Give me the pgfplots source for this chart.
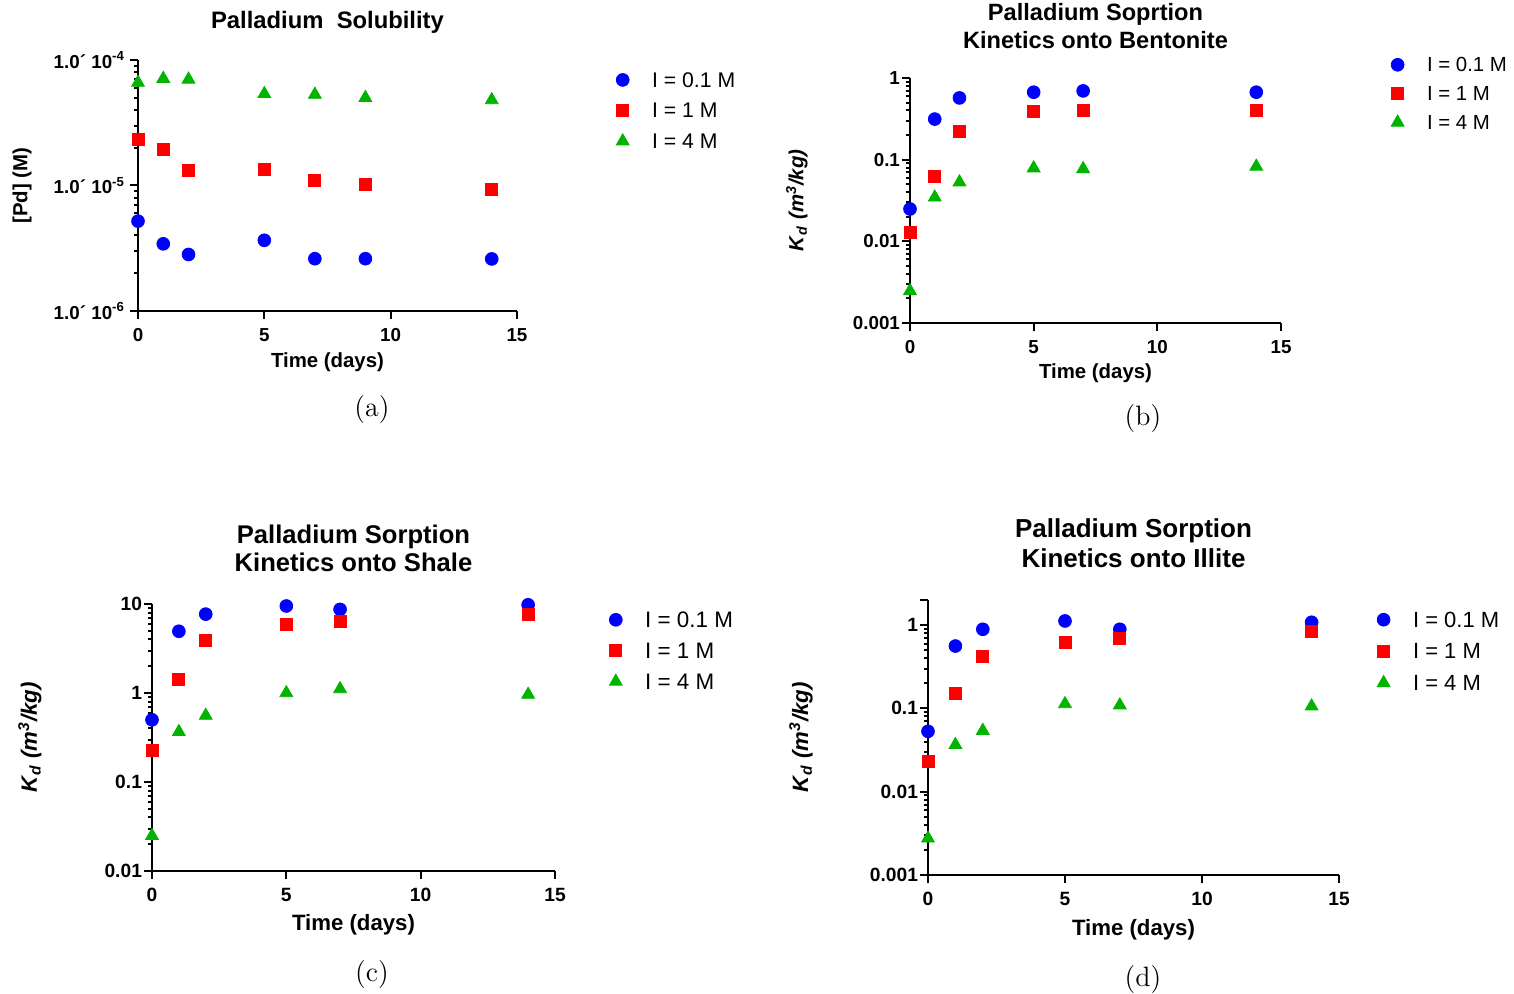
\documentclass[border=0pt]{standalone}
\usepackage{fontspec}
\usepackage{pgfplots}
\pgfplotsset{compat=1.18}
\newfontfamily\arial{Liberation Sans}
\definecolor{pblue}{RGB}{0,0,255}
\definecolor{pred}{RGB}{255,0,0}
\definecolor{pgreen}{RGB}{0,180,0}
\pgfplotsset{
  mystyle/.style={
    scale only axis, axis lines*=left, clip=false,
    xmin=0, xmax=15, xtick={0,5,10,15}, minor x tick num=0,
    tick align=outside, major tick length=4pt, minor tick length=2pt,
    tick style={black, line width=1pt},
    axis line style={line width=1.2pt},
    every axis title shift=0pt,
    /pgf/number format/assume math mode=true,
    ticklabel style={font=\arial\bfseries\fontsize{9.4}{11}\selectfont},
    xticklabel style={yshift=-1.2pt},
    xlabel={Time (days)},
    legend cell align=left,
    legend style={draw=none, fill=none, inner sep=0pt, anchor=north west,
      nodes={inner sep=0pt},
      /tikz/every odd column/.append style={column sep=11.5pt}},
  },
  legend image code/.code={\draw[#1] plot coordinates {(0pt,0.7pt)};},
}
\begin{document}
\begin{tikzpicture}
\useasboundingbox (0,0) rectangle (757pt,497pt);

% (a)
\begin{axis}[mystyle, ymode=log, at={(69pt,341.5pt)}, anchor=south west,
  width=189.5pt, height=125.5pt, ymin=1e-6, ymax=1e-4,
  ytick={1e-6,1e-5,1e-4},
  yticklabels={1.0´ 10\textsuperscript{-6},1.0´ 10\textsuperscript{-5},1.0´ 10\textsuperscript{-4}},
  yticklabel style={xshift=1pt},
  ylabel={[Pd] (M)},
  label style={font=\arial\bfseries\fontsize{10.2}{12}\selectfont},
  xlabel style={at={(axis description cs:0.5,-0.205)}, anchor=center},
  ylabel style={at={(axis description cs:-0.306,0.5)}, anchor=center},
  title={Palladium~~Solubility},
  title style={font=\arial\bfseries\fontsize{11.9}{14}\selectfont, at={(axis description cs:0.5,1.151)}, anchor=center},
  legend style={at={(axis description cs:1.261,0.952)}, row sep=6.5pt,
    font=\arial\fontsize{10.6}{12}\selectfont},
]
\addplot[only marks, mark=*, mark size=3.2pt, color=pblue] coordinates {(0,5.2e-6)(1,3.43e-6)(2,2.82e-6)(5,3.66e-6)(7,2.61e-6)(9,2.61e-6)(14,2.6e-6)};
\addplot[only marks, mark=square*, mark size=3pt, color=pred] coordinates {(0,2.32e-5)(1,1.95e-5)(2,1.31e-5)(5,1.34e-5)(7,1.1e-5)(9,1.02e-5)(14,9.35e-6)};
\addplot[only marks, mark=triangle*, mark size=3.7pt, color=pgreen] coordinates {(0,6.6e-5)(1,7.1e-5)(2,7.0e-5)(5,5.37e-5)(7,5.3e-5)(9,5.0e-5)(14,4.8e-5)};
\legend{I = 0.1 M, I = 1 M, I = 4 M}
\end{axis}

% (b)
\begin{axis}[mystyle, ymode=log, at={(455pt,335.5pt)}, anchor=south west,
  width=185.5pt, height=122.5pt, ymin=0.001, ymax=1,
  ytick={0.001,0.01,0.1,1}, yticklabels={0.001,0.01,0.1,1},
  yticklabel style={xshift=2.5pt},
  ylabel={\textit{K}\textsubscript{\textit{d}} \textit{(m\textsuperscript{3}/kg)}},
  label style={font=\arial\bfseries\fontsize{10.2}{12}\selectfont},
  xlabel style={at={(axis description cs:0.5,-0.206)}, anchor=center},
  ylabel style={at={(axis description cs:-0.305,0.5)}, anchor=center},
  title={Palladium Soprtion\\Kinetics onto Bentonite},
  title style={font=\arial\bfseries\fontsize{11.8}{14}\selectfont, align=center, at={(axis description cs:0.5,1.212)}, anchor=center},
  legend style={at={(axis description cs:1.296,1.085)}, row sep=5.8pt,
    font=\arial\fontsize{10.2}{12}\selectfont},
]
\addplot[only marks, mark=*, mark size=3.2pt, color=pblue] coordinates {(0,0.0249)(1,0.314)(2,0.57)(5,0.67)(7,0.695)(14,0.67)};
\addplot[only marks, mark=square*, mark size=3pt, color=pred] coordinates {(0,0.0127)(1,0.0622)(2,0.224)(5,0.393)(7,0.404)(14,0.404)};
\addplot[only marks, mark=triangle*, mark size=3.7pt, color=pgreen] coordinates {(0,0.00247)(1,0.0345)(2,0.053)(5,0.0787)(7,0.077)(14,0.0824)};
\legend{I = 0.1 M, I = 1 M, I = 4 M}
\end{axis}

% (c)
\begin{axis}[mystyle, ymode=log, at={(76pt,61.5pt)}, anchor=south west,
  width=201.5pt, height=133.5pt, ymin=0.01, ymax=10,
  ytick={0.01,0.1,1,10}, yticklabels={0.01,0.1,1,10},
  ticklabel style={font=\arial\bfseries\fontsize{9.6}{11}\selectfont},
  yticklabel style={xshift=2.5pt},
  ylabel={\textit{K}\textsubscript{\textit{d}} \textit{(m\textsuperscript{3}/kg)}},
  label style={font=\arial\bfseries\fontsize{11.1}{13}\selectfont},
  xlabel style={at={(axis description cs:0.5,-0.201)}, anchor=center},
  ylabel style={at={(axis description cs:-0.303,0.5)}, anchor=center},
  title={Palladium Sorption\\Kinetics onto Shale},
  title style={font=\arial\bfseries\fontsize{12.8}{14}\selectfont, align=center, at={(axis description cs:0.5,1.210)}, anchor=center},
  legend style={at={(axis description cs:1.134,0.972)}, row sep=6.2pt,
    font=\arial\fontsize{11.2}{13}\selectfont},
]
\addplot[only marks, mark=*, mark size=3.2pt, color=pblue] coordinates {(0,0.50)(1,4.94)(2,7.7)(5,9.5)(7,8.7)(14,9.8)};
\addplot[only marks, mark=square*, mark size=3pt, color=pred] coordinates {(0,0.226)(1,1.43)(2,3.9)(5,5.9)(7,6.4)(14,7.65)};
\addplot[only marks, mark=triangle*, mark size=3.7pt, color=pgreen] coordinates {(0,0.0249)(1,0.366)(2,0.557)(5,1.0)(7,1.11)(14,0.96)};
\legend{I = 0.1 M, I = 1 M, I = 4 M}
\end{axis}

% (d)
\begin{axis}[mystyle, ymode=log, at={(464pt,59.5pt)}, anchor=south west,
  width=205.5pt, height=137.5pt, ymin=0.001, ymax=2,
  ytick={0.001,0.01,0.1,1}, yticklabels={0.001,0.01,0.1,1},
  extra y ticks={2}, extra y tick labels={},
  ticklabel style={font=\arial\bfseries\fontsize{9.6}{11}\selectfont},
  yticklabel style={xshift=2.5pt},
  ylabel={\textit{K}\textsubscript{\textit{d}} \textit{(m\textsuperscript{3}/kg)}},
  label style={font=\arial\bfseries\fontsize{11.1}{13}\selectfont},
  xlabel style={at={(axis description cs:0.5,-0.199)}, anchor=center},
  ylabel style={at={(axis description cs:-0.309,0.5)}, anchor=center},
  title={Palladium Sorption\\Kinetics onto Illite},
  title style={font=\arial\bfseries\fontsize{13}{15}\selectfont, align=center, at={(axis description cs:0.5,1.208)}, anchor=center},
  legend style={at={(axis description cs:1.092,0.958)}, row sep=6.7pt,
    font=\arial\fontsize{11}{13}\selectfont},
]
\addplot[only marks, mark=*, mark size=3.2pt, color=pblue] coordinates {(0,0.053)(1,0.56)(2,0.89)(5,1.12)(7,0.89)(14,1.08)};
\addplot[only marks, mark=square*, mark size=3pt, color=pred] coordinates {(0,0.0234)(1,0.150)(2,0.42)(5,0.62)(7,0.70)(14,0.85)};
\addplot[only marks, mark=triangle*, mark size=3.7pt, color=pgreen] coordinates {(0,0.00275)(1,0.0365)(2,0.054)(5,0.113)(7,0.109)(14,0.106)};
\legend{I = 0.1 M, I = 1 M, I = 4 M}
\end{axis}

\node[font=\fontsize{14}{16}\selectfont] at (186pt,292.2pt) {(a)};
\node[font=\fontsize{14}{16}\selectfont] at (571.5pt,287.7pt) {(b)};
\node[font=\fontsize{14}{16}\selectfont] at (186pt,9.7pt) {(c)};
\node[font=\fontsize{14}{16}\selectfont] at (571.5pt,7.2pt) {(d)};
\end{tikzpicture}
\end{document}
